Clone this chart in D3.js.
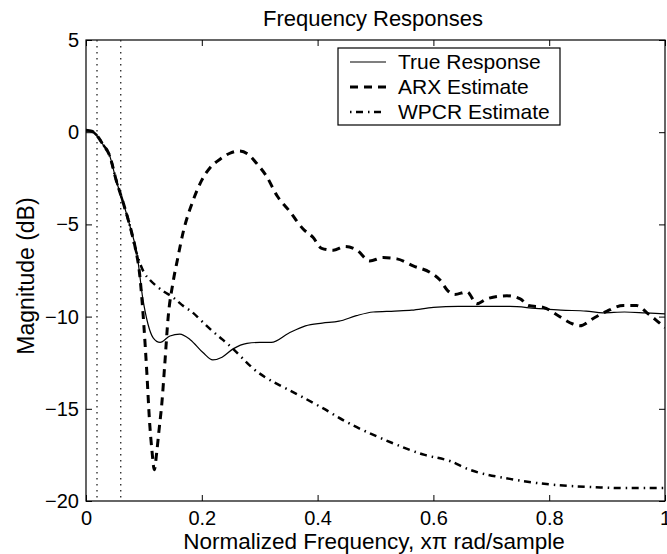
<!DOCTYPE html>
<html>
<head>
<meta charset="utf-8">
<script src="https://cdn.jsdelivr.net/npm/d3@7"></script>
<style>
  body { margin: 0; background: #fff; }
  svg { display: block; font-family: "Liberation Sans", Arial, Helvetica, sans-serif; }
  .axis path, .axis line { stroke: #000; }
  .axis text { font-size: 20px; fill: #000; }
</style>
</head>
<body>
<svg id="chart" width="667" height="554"></svg>
<script>
/* data */
const xTicks = [0, 0.2, 0.4, 0.6, 0.8, 1];
const yTicks = [-20, -15, -10, -5, 0, 5];
const markers = [0.019, 0.06];

const trueFreq = [0, 0.01, 0.018, 0.03, 0.04, 0.053, 0.064, 0.076, 0.088, 0.098, 0.107, 0.116, 0.128,
  0.145, 0.162, 0.18, 0.202, 0.219, 0.235, 0.254, 0.278, 0.3, 0.32, 0.35, 0.379, 0.408, 0.437, 0.467,
  0.496, 0.533, 0.5625, 0.6, 0.643, 0.695, 0.732, 0.776, 0.82, 0.864, 0.893, 0.93, 0.967, 1.0];
const trueMag = [0.1, 0.05, -0.15, -0.7, -1.2, -2.7, -3.8, -5.1, -6.6, -9.0, -10.4, -11.15, -11.4,
  -11.05, -10.95, -11.25, -11.95, -12.35, -12.2, -11.75, -11.45, -11.4, -11.4, -10.9, -10.5, -10.35, -10.25, -9.95,
  -9.75, -9.7, -9.65, -9.5, -9.45, -9.45, -9.45, -9.55, -9.65, -9.7, -9.8, -9.75, -9.8, -9.85];

const arxFreq = [0, 0.01, 0.018, 0.03, 0.04, 0.053, 0.064, 0.076, 0.084, 0.093, 0.1, 0.105, 0.11, 0.114,
  0.118, 0.122, 0.126, 0.131, 0.136, 0.142, 0.15, 0.158, 0.168, 0.185, 0.2, 0.215, 0.232, 0.25, 0.265,
  0.28, 0.295, 0.312, 0.33, 0.352, 0.375, 0.392, 0.407, 0.427, 0.447, 0.468, 0.49, 0.513, 0.537, 0.565,
  0.594, 0.611, 0.625, 0.637, 0.658, 0.675, 0.692, 0.727, 0.75, 0.764, 0.79, 0.813, 0.841, 0.853, 0.876,
  0.9, 0.928, 0.951, 0.971, 0.985, 1.0];
const arxMag = [0.1, 0.05, -0.15, -0.7, -1.2, -2.7, -3.8, -5.1, -6.1, -7.8, -10.5, -13.0, -15.8, -17.3,
  -18.3, -17.4, -16.2, -14.7, -12.6, -10.0, -8.2, -6.9, -5.4, -3.7, -2.6, -1.9, -1.45, -1.12, -1.02,
  -1.2, -1.7, -2.4, -3.45, -4.3, -5.25, -5.7, -6.3, -6.4, -6.2, -6.4, -6.98, -6.8, -6.87, -7.25,
  -7.6, -8.0, -8.6, -8.8, -8.66, -9.3, -9.04, -8.87, -9.04, -9.4, -9.5, -9.9, -10.4, -10.5, -10.1,
  -9.7, -9.4, -9.4, -9.85, -10.2, -10.6];

const wpcrFreq = [0, 0.01, 0.018, 0.03, 0.04, 0.053, 0.064, 0.076, 0.085, 0.092, 0.1, 0.11, 0.122, 0.135,
  0.15, 0.165, 0.185, 0.2, 0.219, 0.236, 0.254, 0.27, 0.29, 0.31, 0.33, 0.364, 0.408, 0.452, 0.51,
  0.585, 0.63, 0.658, 0.732, 0.8, 0.88, 0.93, 1.0];
const wpcrMag = [0.1, 0.05, -0.15, -0.7, -1.2, -2.7, -3.8, -5.1, -6.3, -7.0, -7.6, -8.0, -8.35, -8.65,
  -8.95, -9.35, -9.8, -10.25, -10.8, -11.25, -11.75, -12.25, -12.85, -13.3, -13.65, -14.2, -14.95, -15.75, -16.6,
  -17.5, -17.85, -18.25, -18.8, -19.1, -19.25, -19.3, -19.3];

const seriesNames = ['True Response', 'ARX Estimate', 'WPCR Estimate'];

/**
 * plot frame and styles
 */
const frame = { left: 86, right: 665, top: 40, bottom: 501 };
const styles = [
  { width: 1.2, dash: null },
  { width: 3, dash: '8,6' },
  { width: 2.5, dash: '1.5,4.5,7,5' },
];

const svg = d3.select('#chart');

const x = d3.scaleLinear().domain([0, 1]).range([frame.left, frame.right]);
const y = d3.scaleLinear().domain([-20, 5]).range([frame.bottom, frame.top]);

const tickFmt = d => (d === 0 || d === 1) ? String(d) : d3.format('.1f')(d);
const tickLen = 6;

// frame box
svg.append('rect')
  .attr('x', frame.left).attr('y', frame.top)
  .attr('width', frame.right - frame.left).attr('height', frame.bottom - frame.top)
  .attr('fill', 'none').attr('stroke', '#000').attr('stroke-width', 1.2);

// bottom axis with labels, inward ticks
svg.append('g').attr('class', 'axis')
  .attr('transform', `translate(0, ${frame.bottom})`)
  .call(d3.axisBottom(x).tickValues(xTicks).tickFormat(tickFmt).tickSizeInner(-tickLen).tickSizeOuter(0).tickPadding(10))
  .call(g => g.select('.domain').remove());
svg.append('g').attr('class', 'axis')
  .attr('transform', `translate(0, ${frame.top})`)
  .call(d3.axisTop(x).tickValues(xTicks).tickFormat('').tickSizeInner(-tickLen).tickSizeOuter(0))
  .call(g => g.select('.domain').remove());

// left axis with labels, right axis ticks only
svg.append('g').attr('class', 'axis')
  .attr('transform', `translate(${frame.left}, 0)`)
  .call(d3.axisLeft(y).tickValues(yTicks).tickSizeInner(-tickLen).tickSizeOuter(0).tickPadding(7))
  .call(g => g.select('.domain').remove());
svg.append('g').attr('class', 'axis')
  .attr('transform', `translate(${frame.right}, 0)`)
  .call(d3.axisRight(y).tickValues(yTicks).tickFormat('').tickSizeInner(-tickLen).tickSizeOuter(0))
  .call(g => g.select('.domain').remove());

// dotted marker lines
svg.selectAll('line.marker').data(markers).enter()
  .append('line')
  .attr('class', 'marker')
  .attr('x1', d => x(d)).attr('x2', d => x(d))
  .attr('y1', frame.top).attr('y2', frame.bottom)
  .attr('stroke', '#222').attr('stroke-width', 1.3)
  .attr('stroke-dasharray', '1.5,4.5');

// curves
svg.append('clipPath').attr('id', 'clip')
  .append('rect')
  .attr('x', frame.left).attr('y', frame.top)
  .attr('width', frame.right - frame.left).attr('height', frame.bottom - frame.top);

const line = d3.line()
  .x(d => x(d[0]))
  .y(d => y(d[1]))
  .curve(d3.curveMonotoneX);

const series = [
  d3.zip(trueFreq, trueMag),
  d3.zip(arxFreq, arxMag),
  d3.zip(wpcrFreq, wpcrMag),
];

const plot = svg.append('g').attr('clip-path', 'url(#clip)');
series.forEach((s, i) => {
  plot.append('path')
    .datum(s)
    .attr('d', line)
    .attr('fill', 'none')
    .attr('stroke', '#000')
    .attr('stroke-width', styles[i].width)
    .attr('stroke-dasharray', styles[i].dash);
});

// legend
const legend = svg.append('g');
legend.append('rect')
  .attr('x', 338).attr('y', 48).attr('width', 222).attr('height', 77)
  .attr('fill', '#fff').attr('stroke', '#000').attr('stroke-width', 1.2);
seriesNames.forEach((name, i) => {
  const ly = 62 + i * 25;
  legend.append('line')
    .attr('x1', 350).attr('x2', 386).attr('y1', ly).attr('y2', ly)
    .attr('stroke', '#000')
    .attr('stroke-width', styles[i].width)
    .attr('stroke-dasharray', styles[i].dash);
  legend.append('text')
    .attr('x', 398).attr('y', ly).attr('dy', '0.35em')
    .attr('font-size', 21)
    .text(name);
});

// titles
svg.append('text')
  .attr('x', 373).attr('y', 26)
  .attr('text-anchor', 'middle').attr('font-size', 22)
  .text('Frequency Responses');
svg.append('text')
  .attr('x', 374).attr('y', 549)
  .attr('text-anchor', 'middle').attr('font-size', 22.5)
  .text('Normalized Frequency, xπ rad/sample');
svg.append('text')
  .attr('transform', 'translate(34, 276) rotate(-90)')
  .attr('text-anchor', 'middle').attr('font-size', 23)
  .text('Magnitude (dB)');
</script>
</body>
</html>
